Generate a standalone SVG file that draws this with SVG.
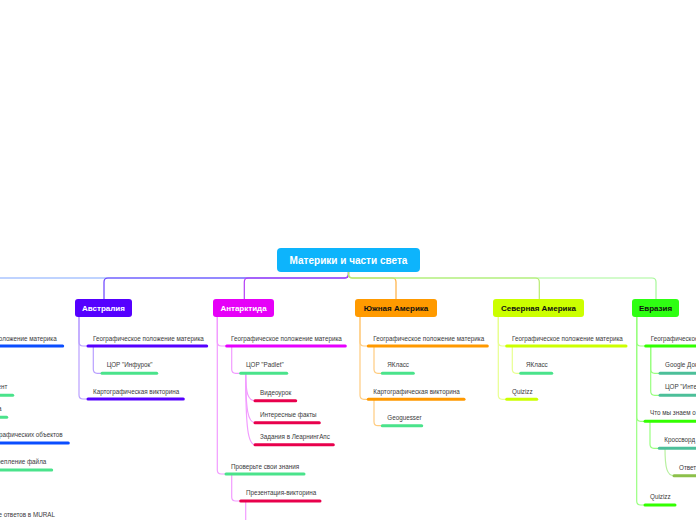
<svg xmlns="http://www.w3.org/2000/svg" width="696" height="520" viewBox="0 0 696 520">
<style>
.bg{fill:#ffffff}
.t{font-family:"Liberation Sans",Arial,sans-serif;font-size:6.3px;fill:#3a3a3a}
.bt{font-family:"Liberation Sans",Arial,sans-serif;font-size:8px;font-weight:bold;text-anchor:middle}
.rt{font-family:"Liberation Sans",Arial,sans-serif;font-size:10px;font-weight:bold;fill:#ffffff;text-anchor:middle}
.c{fill:none;stroke-width:1.2;stroke-linecap:round}
.u{fill:none;stroke-width:3;stroke-linecap:round}
.blue{stroke:#0a4dff}.purple{stroke:#5500ff}.mag{stroke:#e600ff}.orange{stroke:#ff9900}.lime{stroke:#ccff00}.green{stroke:#33ff00}
.mint{stroke:#4ae38b}.crim{stroke:#e8004c}.teal{stroke:#4cbf99}.olive{stroke:#8cc04a}
.cPur{stroke:#b9a0ff}.cMag{stroke:#f29cff}.cOr{stroke:#ffcc80}.cLim{stroke:#e8ff90}.cGr{stroke:#99ff80}
</style>
<rect class="bg" x="0" y="0" width="696" height="520"/>

<g id="connectors">
  <!-- root to continents -->
  <path class="c" stroke="#80a8ff" d="M348.5,272 V274 Q348.5,278 344.5,278 H-10"/>
  <path class="c" stroke="#6a40ff" d="M348.5,272 V274 Q348.5,278 344.5,278 H108 Q104,278 104,282 V299"/>
  <path class="c" stroke="#b43cf5" d="M348.5,272 V274 Q348.5,278 344.5,278 H248.3 Q244.3,278 244.3,282 V299"/>
  <path class="c" stroke="#ffb040" d="M348.5,272 V274 Q348.5,278 352.5,278 H392 Q396,278 396,282 V299"/>
  <path class="c" stroke="#a6f898" d="M348.5,272 V274 Q348.5,278 352.5,278 H652 Q656,278 656,282 V299"/>
  <path class="c" stroke="#b8ec70" d="M348.5,272 V274 Q348.5,278 352.5,278 H535.3 Q539.3,278 539.3,282 V299"/>

  <!-- Australia -->
  <path class="c cPur" d="M79,317 V342 Q79,346 83,346 H88"/>
  <path class="c cPur" d="M79,317 V395 Q79,399 83,399 H88"/>
  <path class="c cPur" d="M93.3,346 V369.3 Q93.3,373.3 97.3,373.3 H102"/>

  <!-- Antarctica -->
  <path class="c cMag" d="M217.3,317 V342 Q217.3,346 221.3,346 H226.7"/>
  <path class="c cMag" d="M217.3,317 V470 Q217.3,474 221.3,474 H226"/>
  <path class="c cMag" d="M231.7,346 V369.3 Q231.7,373.3 235.7,373.3 H240.7"/>
  <path class="c cMag" d="M245.7,373.3 C245.7,393 248,400.7 255,400.7"/>
  <path class="c cMag" d="M245.7,373.3 C245.7,410 248,422.7 255,422.7"/>
  <path class="c cMag" d="M245.7,373.3 C245.7,428 248,444.7 255,444.7"/>
  <path class="c cMag" d="M231.7,474 V497 Q231.7,501 235.7,501 H240.7"/>
  <path class="c cMag" d="M245.7,501 V525"/>

  <!-- South America -->
  <path class="c cOr" d="M360,317 V342 Q360,346 364,346 H368.3"/>
  <path class="c cOr" d="M360,317 V395.3 Q360,399.3 364,399.3 H368.3"/>
  <path class="c cOr" d="M374,346 V369.3 Q374,373.3 378,373.3 H382.3"/>
  <path class="c cOr" d="M374,399.3 V421.7 Q374,425.7 378,425.7 H382.3"/>

  <!-- North America -->
  <path class="c cLim" d="M498.3,317 V342 Q498.3,346 502.3,346 H506.7"/>
  <path class="c cLim" d="M498.3,317 V395.3 Q498.3,399.3 502.3,399.3 H506.7"/>
  <path class="c cLim" d="M512.3,346 V369.3 Q512.3,373.3 516.3,373.3 H520.7"/>

  <!-- Eurasia -->
  <path class="c cGr" d="M636.7,317 V342 Q636.7,346 640.7,346 H645.7"/>
  <path class="c cGr" d="M636.7,317 V417.3 Q636.7,421.3 640.7,421.3 H645"/>
  <path class="c cGr" d="M636.7,317 V501 Q636.7,505 640.7,505 H645"/>
  <path class="c cGr" d="M650.7,346 V369.3 Q650.7,373.3 654.7,373.3 H660"/>
  <path class="c cGr" d="M650.7,346 V391.3 Q650.7,395.3 654.7,395.3 H660"/>
  <path class="c cGr" d="M650,421.3 V444.3 Q650,448.3 654,448.3 H659.3"/>
  <path class="c" stroke="#b8f0a0" d="M665,448.3 C665,468 667,475.7 674,475.7"/>
</g>

<g id="root">
  <rect x="277" y="248" width="143" height="24" rx="4" fill="#0db4fc"/>
  <text class="rt" x="348.5" y="263.5">Материки и части света</text>
</g>

<g id="left-continent">
  <path class="u blue" d="M-10,346 H62.7"/>
  <text class="t" x="56.7" y="340.7" text-anchor="end">Географическое положение материка</text>
  <path class="u mint" d="M-10,395.3 H12.7"/>
  <text class="t" x="7.3" y="389" text-anchor="end">ент</text>
  <path class="u mint" d="M-10,417.3 H6.7"/>
  <text class="t" x="1.6" y="411.3" text-anchor="end">а</text>
  <path class="u blue" d="M-10,443 H68.3"/>
  <text class="t" x="62.7" y="437" text-anchor="end">графических объектов</text>
  <path class="u mint" d="M-10,470 H51.7"/>
  <text class="t" x="46.3" y="464" text-anchor="end">репление файла</text>
  <text class="t" x="55" y="516.7" text-anchor="end">е ответов в MURAL</text>
</g>

<g id="australia">
  <rect x="75" y="299" width="57" height="18" rx="3" fill="#5500ff"/>
  <text class="bt" x="103.5" y="311" fill="#ffffff">Австралия</text>
</g>
<g id="au-geo">
  <path class="u purple" d="M88,346 H206.7"/>
  <text class="t" x="93" y="340.7">Географическое положение материка</text>
</g>
<g id="au-infourok">
  <path class="u mint" d="M102,373.3 H156.7"/>
  <text class="t" x="106.7" y="367.3">ЦОР "Инфурок"</text>
</g>
<g id="au-quiz">
  <path class="u purple" d="M88,399 H183.3"/>
  <text class="t" x="93" y="393.7">Картографическая викторина</text>
</g>

<g id="antarctica">
  <rect x="213" y="299" width="61" height="18" rx="3" fill="#e600f8"/>
  <text class="bt" x="243.5" y="311" fill="#ffffff">Антарктида</text>
</g>
<g id="an-geo">
  <path class="u mag" d="M226.7,346 H345.3"/>
  <text class="t" x="231" y="340.7">Географическое положение материка</text>
</g>
<g id="an-padlet">
  <path class="u mint" d="M240.7,373.3 H286.7"/>
  <text class="t" x="246" y="367.3">ЦОР "Padlet"</text>
</g>
<g id="an-video">
  <path class="u crim" d="M255,400.7 H295.7"/>
  <text class="t" x="260" y="395.3">Видеоурок</text>
</g>
<g id="an-facts">
  <path class="u crim" d="M255,422.7 H319.3"/>
  <text class="t" x="260" y="417.3">Интересные факты</text>
</g>
<g id="an-learning">
  <path class="u crim" d="M255,444.7 H333.3"/>
  <text class="t" x="260" y="439.3">Задания в ЛеарнингАпс</text>
</g>
<g id="an-check">
  <path class="u mint" d="M226,474 H304"/>
  <text class="t" x="231" y="468.7">Проверьте свои знания</text>
</g>
<g id="an-pres">
  <path class="u crim" d="M240.7,501 H320"/>
  <text class="t" x="246" y="495.3">Презентация-викторина</text>
</g>

<g id="south-america">
  <rect x="355" y="299" width="82" height="18" rx="3" fill="#ff9a00"/>
  <text class="bt" x="396" y="311" fill="#111111">Южная Америка</text>
</g>
<g id="sa-geo">
  <path class="u orange" d="M368.3,346 H487.3"/>
  <text class="t" x="373.3" y="340.7">Географическое положение материка</text>
</g>
<g id="sa-yaklass">
  <path class="u mint" d="M382.3,373.3 H413.3"/>
  <text class="t" x="387.3" y="367.3">ЯКласс</text>
</g>
<g id="sa-quiz">
  <path class="u orange" d="M368.3,399.3 H464"/>
  <text class="t" x="373.3" y="394">Картографическая викторина</text>
</g>
<g id="sa-geoguesser">
  <path class="u mint" d="M382.3,425.7 H421.7"/>
  <text class="t" x="387.3" y="420.3">Geoguesser</text>
</g>

<g id="north-america">
  <rect x="493" y="299" width="91" height="18" rx="3" fill="#ccff00"/>
  <text class="bt" x="538.5" y="311" fill="#111111">Северная Америка</text>
</g>
<g id="na-geo">
  <path class="u lime" d="M506.7,346 H626"/>
  <text class="t" x="512" y="340.7">Географическое положение материка</text>
</g>
<g id="na-yaklass">
  <path class="u mint" d="M520.7,373.3 H551.7"/>
  <text class="t" x="526" y="367.3">ЯКласс</text>
</g>
<g id="na-quizizz">
  <path class="u lime" d="M506.7,399.3 H536.7"/>
  <text class="t" x="512" y="394">Quizizz</text>
</g>

<g id="eurasia">
  <rect x="632" y="299" width="47" height="18" rx="3" fill="#2eff12"/>
  <text class="bt" x="655.5" y="311" fill="#111111">Евразия</text>
</g>
<g id="eu-geo">
  <path class="u green" d="M645.7,346 H705"/>
  <text class="t" x="650.7" y="340.7">Географическое положение материка</text>
</g>
<g id="eu-google">
  <path class="u teal" d="M660,373.3 H705"/>
  <text class="t" x="665" y="367.3">Google Документы</text>
</g>
<g id="eu-interactive">
  <path class="u teal" d="M660,395.3 H705"/>
  <text class="t" x="665" y="389.3">ЦОР "Интер</text>
</g>
<g id="eu-know">
  <path class="u green" d="M645,421.3 H705"/>
  <text class="t" x="650" y="415.3">Что мы знаем о</text>
</g>
<g id="eu-crossword">
  <path class="u teal" d="M659.3,448.3 H705"/>
  <text class="t" x="664.3" y="442.3">Кроссворд</text>
</g>
<g id="eu-answer">
  <path class="u olive" d="M674,475.7 H705"/>
  <text class="t" x="679" y="470">Ответ</text>
</g>
<g id="eu-quizizz">
  <path class="u green" d="M645,505 H675"/>
  <text class="t" x="650" y="499">Quizizz</text>
</g>
</svg>
